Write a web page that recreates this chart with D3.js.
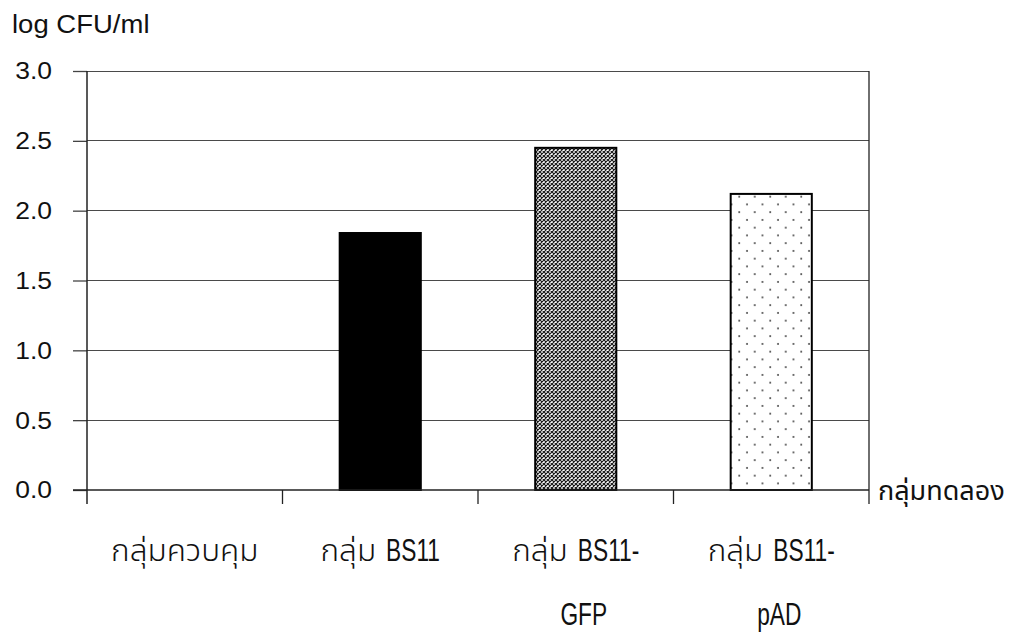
<!DOCTYPE html>
<html>
<head>
<meta charset="utf-8">
<script src="https://cdn.jsdelivr.net/npm/d3@7"></script>
<style>
  html, body { margin: 0; padding: 0; background: #fff; }
  svg { display: block; }
</style>
</head>
<body>
<svg id="chart" width="1016" height="641"></svg>
<script>
// Bacterial counts per experimental group (log CFU/ml)
const categories = ["กลุ่มควบคุม", "กลุ่ม BS11", "กลุ่ม BS11-GFP", "กลุ่ม BS11-pAD"];
const values = [0, 1.84, 2.45, 2.12];
const fills = ["#000", "#000", "url(#cross)", "url(#dots)"];
const yTicks = [0, 0.5, 1.0, 1.5, 2.0, 2.5, 3.0];
const yTitle = "log CFU/ml";
const xTitle = "กลุ่มทดลอง";

const LATIN = "Liberation Sans, Arial, sans-serif";
const THAI = "Noto Sans Thai, Noto Sans, DejaVu Sans, sans-serif";

const svg = d3.select("#chart");
const margin = { left: 87, right: 147, top: 71, bottom: 151 };
const W = 1016, H = 641;

const x = d3.scaleBand().domain(categories).range([margin.left, W - margin.right]).padding(0);
const y = d3.scaleLinear().domain([0, 3]).range([H - margin.bottom, margin.top]);
const barFrac = 0.415;

// stretch or squeeze a text element horizontally by a factor
function stretch(sel, f) {
  sel.each(function () {
    const w = this.getComputedTextLength();
    d3.select(this).attr("textLength", w * f).attr("lengthAdjust", "spacingAndGlyphs");
  });
  return sel;
}

// fill patterns
const defs = svg.append("defs");
const cross = defs.append("pattern").attr("id", "cross")
  .attr("patternUnits", "userSpaceOnUse").attr("width", 4).attr("height", 4);
cross.append("rect").attr("width", 4).attr("height", 4).attr("fill", "#fff");
cross.append("path").attr("d", "M0,0L4,4M4,0L0,4").attr("stroke", "#1a1a1a").attr("stroke-width", 1.2);

const dots = defs.append("pattern").attr("id", "dots")
  .attr("patternUnits", "userSpaceOnUse").attr("width", 15.5).attr("height", 15.5);
dots.append("rect").attr("width", 15.5).attr("height", 15.5).attr("fill", "#fff");
dots.append("circle").attr("cx", 3).attr("cy", 3).attr("r", 0.95).attr("fill", "#333");
dots.append("circle").attr("cx", 10.75).attr("cy", 10.75).attr("r", 0.95).attr("fill", "#333");

// gridlines
svg.append("g").selectAll("line").data(yTicks.filter(d => d > 0)).join("line")
  .attr("x1", margin.left).attr("x2", W - margin.right)
  .attr("y1", d => y(d)).attr("y2", d => y(d))
  .attr("stroke", "#4a4a4a").attr("stroke-width", 1).attr("shape-rendering", "crispEdges");

// bars
svg.append("g").selectAll("rect").data(categories).join("rect")
  .attr("x", d => x(d) + x.bandwidth() * (1 - barFrac) / 2)
  .attr("width", x.bandwidth() * barFrac)
  .attr("y", (d, i) => y(values[i]))
  .attr("height", (d, i) => y(0) - y(values[i]))
  .attr("fill", (d, i) => fills[i])
  .attr("stroke", (d, i) => values[i] > 0 ? "#000" : "none")
  .attr("stroke-width", 2);

// y axis
const yAxis = svg.append("g").attr("transform", `translate(${margin.left},0)`)
  .call(d3.axisLeft(y).tickValues(yTicks).tickFormat(d3.format(".1f")).tickSize(14).tickPadding(21));
yAxis.select(".domain").remove();
yAxis.selectAll(".tick line").attr("stroke", "#444").attr("stroke-width", 1.3);
const yLabels = yAxis.selectAll(".tick text")
  .attr("font-size", 24.5).attr("fill", "#111").attr("font-family", LATIN);
stretch(yLabels, 1.08);

svg.append("line").attr("x1", margin.left).attr("x2", margin.left)
  .attr("y1", margin.top).attr("y2", y(0) + 14).attr("stroke", "#222").attr("stroke-width", 1.5);

// x axis with tick marks at the band boundaries
const bounds = categories.map(c => x(c)).concat([W - margin.right]);
svg.append("line").attr("x1", margin.left - 14).attr("x2", W - margin.right)
  .attr("y1", y(0)).attr("y2", y(0)).attr("stroke", "#222").attr("stroke-width", 1.5);
svg.append("g").selectAll("line").data(bounds.slice(1)).join("line")
  .attr("x1", d => d).attr("x2", d => d)
  .attr("y1", (d, i) => i === bounds.length - 2 ? margin.top : y(0))
  .attr("y2", y(0) + 14)
  .attr("stroke", "#222").attr("stroke-width", 1.3);

// category labels: broken after the hyphen, Thai and Latin runs set in condensed type
const lab = svg.append("g").attr("fill", "#111");
categories.forEach(c => {
  const cut = c.indexOf("-");
  const lines = cut >= 0 ? [c.slice(0, cut + 1), c.slice(cut + 1)] : [c];
  lines.forEach((line, j) => {
    const runs = line.split(/([\u0E00-\u0E7F]+)/).map(s => s.trim()).filter(Boolean);
    const g = lab.append("g");
    let cx = 0;
    runs.forEach((r, k) => {
      const thai = /[\u0E00-\u0E7F]/.test(r);
      const t = g.append("text")
        .attr("x", cx).attr("y", 0)
        .attr("font-family", thai ? THAI : LATIN)
        .attr("font-weight", thai ? 300 : 400)
        .attr("font-size", thai ? 30 : 32)
        .text(r);
      stretch(t, thai ? 1.05 : 0.71);
      cx += +t.attr("textLength") + (k < runs.length - 1 ? 10 : 0);
    });
    const cxMid = x(c) + x.bandwidth() / 2 + (j === 1 ? 8 : 0);
    g.attr("transform", `translate(${cxMid - cx / 2},${561 + j * 64})`);
  });
});

// axis titles
stretch(svg.append("text").attr("font-family", LATIN).attr("x", 12).attr("y", 33)
  .attr("font-size", 25).attr("fill", "#111").text(yTitle), 1.1);
svg.append("text").attr("font-family", THAI).attr("x", 878).attr("y", 500)
  .attr("font-weight", 400)
  .attr("font-size", 27).attr("fill", "#111").text(xTitle);
</script>
</body>
</html>
